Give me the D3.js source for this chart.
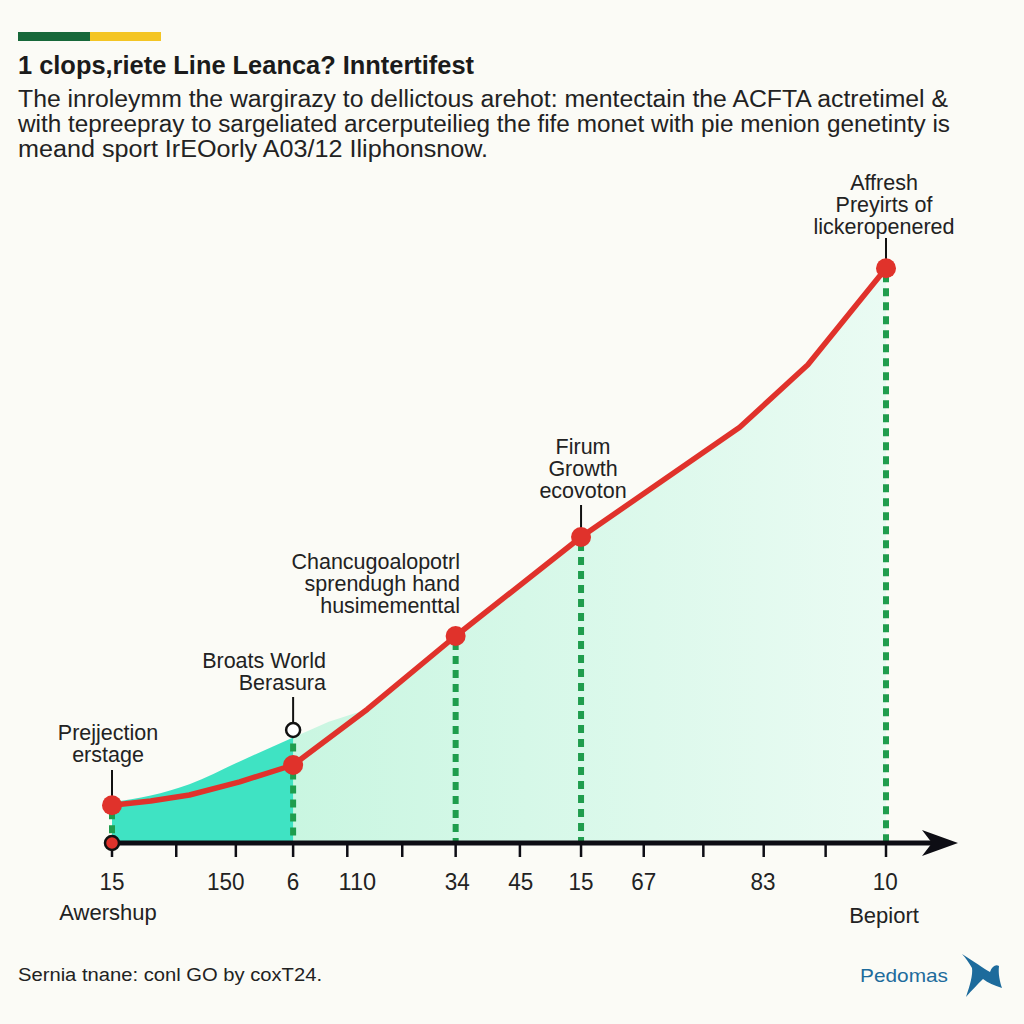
<!DOCTYPE html>
<html><head><meta charset="utf-8">
<script src="https://cdn.jsdelivr.net/npm/d3@7"></script>
<style>html,body{margin:0;padding:0;background:#fbfbf6;}svg{display:block;}</style>
</head><body>
<svg id="c" width="1024" height="1024"></svg>
<script>
// ---- data ----
const titleText = "1 clops,riete Line Leanca? Inntertifest";
const subtitleLines = [
  "The inroleymm the wargirazy to dellictous arehot: mentectain the ACFTA actretimel &",
  "with tepreepray to sargeliated arcerputeilieg the fife monet with pie menion genetinty is",
  "meand sport IrEOorly A03/12 Iliphonsnow."
];
const sourceText = "Sernia tnane: conl GO by coxT24.";
const brandText = "Pedomas";

const lineX = [0, 5, 10, 16.5, 23.4, 33, 44.4, 60.6, 81.1, 89.9, 100];
const lineY = [6.3, 7.0, 8.0, 10.2, 13.0, 22.3, 34.5, 51.0, 69.3, 79.7, 95.8];

const earlyX = [0, 5, 10, 16.5, 23.4];
const earlyY = [6.8, 7.9, 9.8, 13.6, 17.6];

const growthX = [23.4, 28, 33, 44.4, 60.6, 81.1, 89.9, 100];
const growthY = [17.6, 20.2, 22.3, 34.5, 51.0, 69.3, 79.7, 95.8];

const keyX = [0, 23.4, 44.4, 60.6, 100];
const keyY = [6.3, 13.0, 34.5, 51.0, 95.8];

const tickValues = [0, 8.3, 16, 23.4, 30.4, 37.5, 44.4, 52.7, 60.6, 68.7, 76.4, 84.2, 92.2, 100];
const tickLabels = ["15", "150", "6", "110", "34", "45", "15", "67", "83", "10"];
const tickLabelPos = [0, 14.7, 23.4, 31.7, 44.6, 52.8, 60.6, 68.7, 84.1, 99.9];
const endLabels = ["Awershup", "Bepiort"];

const annoLines = [
  ["Prejjection", "erstage"],
  ["Broats World", "Berasura"],
  ["Chancugoalopotrl", "sprendugh hand", "husimementtal"],
  ["Firum", "Growth", "ecovoton"],
  ["Affresh", "Preyirts of", "lickeropenered"]
];

// ---- drawing ----
const svg = d3.select("#c");
svg.append("rect").attr("width",1024).attr("height",1024).attr("fill","#fbfbf6");

const x = d3.scaleLinear().domain([0,100]).range([112,886]);
const y = d3.scaleLinear().domain([0,100]).range([843,243]);

// header bar
svg.append("rect").attr("x",18).attr("y",32).attr("width",72).attr("height",9).attr("fill","#17683a");
svg.append("rect").attr("x",90).attr("y",32).attr("width",71).attr("height",9).attr("fill","#f4c524");

svg.append("text").attr("x",18).attr("y",74).text(titleText)
  .attr("font-family","Liberation Sans, Arial, sans-serif").attr("font-weight","bold")
  .attr("font-size",26).attr("fill","#1b1b1b")
  .attr("textLength",456).attr("lengthAdjust","spacingAndGlyphs");

const subW = [930, 932, 470];
subtitleLines.forEach((t,i)=>{
  svg.append("text").attr("x",18).attr("y",107+i*25).text(t)
    .attr("font-family","Liberation Sans, Arial, sans-serif")
    .attr("font-size",23).attr("fill","#222")
    .attr("textLength",subW[i]).attr("lengthAdjust","spacingAndGlyphs");
});

// gradient for growth area
const defs = svg.append("defs");
const g1 = defs.append("linearGradient").attr("id","lg").attr("x1","0").attr("x2","1").attr("y1","0").attr("y2","0");
g1.append("stop").attr("offset","0").attr("stop-color","#c9f6e1");
g1.append("stop").attr("offset","1").attr("stop-color","#eafbf3");

const growth = growthX.map((v,i)=>({x:v,y:growthY[i]}));
const early = earlyX.map((v,i)=>({x:v,y:earlyY[i]}));
const line = lineX.map((v,i)=>({x:v,y:lineY[i]}));

svg.append("path").datum(growth)
  .attr("d", d3.area().x(d=>x(d.x)).y0(y(0)).y1(d=>y(d.y)).curve(d3.curveLinear))
  .attr("fill","url(#lg)");
svg.append("path").datum(early)
  .attr("d", d3.area().x(d=>x(d.x)).y0(y(0)).y1(d=>y(d.y)).curve(d3.curveMonotoneX))
  .attr("fill","#3fe3c3");

// dashed verticals
keyX.forEach((v,i)=>{
  const top = i===1 ? y(earlyY[earlyY.length-1]) : y(keyY[i]);
  svg.append("line").attr("x1",x(v)).attr("x2",x(v)).attr("y1",top+6).attr("y2",y(0)-2)
    .attr("stroke","#1f9d4d").attr("stroke-width",6).attr("stroke-dasharray","8,6");
});

// axis
const axisG = svg.append("g");
axisG.append("line").attr("x1",x(0)).attr("x2",945).attr("y1",y(0)).attr("y2",y(0))
  .attr("stroke","#0d0d14").attr("stroke-width",5);
axisG.append("path").attr("d",`M922,${y(0)-13} L958,${y(0)} L922,${y(0)+13} L932,${y(0)} Z`).attr("fill","#0d0d14");
tickValues.forEach(v=>{
  axisG.append("line").attr("x1",x(v)).attr("x2",x(v)).attr("y1",y(0)).attr("y2",y(0)+14)
    .attr("stroke","#0d0d14").attr("stroke-width",2.5);
});
tickLabels.forEach((t,i)=>{
  axisG.append("text").attr("x",x(tickLabelPos[i])).attr("y",890).attr("text-anchor","middle")
    .attr("font-family","Liberation Sans, Arial, sans-serif").attr("font-size",23).attr("fill","#222")
    .attr("textLength", t.length*12.5).attr("lengthAdjust","spacingAndGlyphs").text(t);
});
axisG.append("text").attr("x",x(0)-4).attr("y",920).attr("text-anchor","middle")
  .attr("font-family","Liberation Sans, Arial, sans-serif").attr("font-size",22).attr("fill","#222").text(endLabels[0]);
axisG.append("text").attr("x",x(100)-2).attr("y",923).attr("text-anchor","middle")
  .attr("font-family","Liberation Sans, Arial, sans-serif").attr("font-size",22).attr("fill","#222").text(endLabels[1]);

// origin marker
svg.append("circle").attr("cx",x(0)).attr("cy",y(0)).attr("r",7).attr("fill","#e0322b")
  .attr("stroke","#111").attr("stroke-width",2.5);

// red line
svg.append("path").datum(line)
  .attr("d", d3.line().x(d=>x(d.x)).y(d=>y(d.y)).curve(d3.curveLinear))
  .attr("fill","none").attr("stroke","#e0322b").attr("stroke-width",5.5).attr("stroke-linejoin","round");

// annotations
function annoText(lines, cx, baseY, anchor){
  lines.forEach((t,i)=>{
    svg.append("text").attr("x",cx).attr("y",baseY+i*22).attr("text-anchor",anchor)
      .attr("font-family","Liberation Sans, Arial, sans-serif").attr("font-size",21.5).attr("fill","#222").text(t);
  });
}
// 0
annoText(annoLines[0], x(keyX[0])-4, 740, "middle");
svg.append("line").attr("x1",x(keyX[0])).attr("x2",x(keyX[0])).attr("y1",770).attr("y2",y(keyY[0])-8).attr("stroke","#111").attr("stroke-width",2);
// 1
annoText(annoLines[1], 326, 668, "end");
svg.append("line").attr("x1",x(keyX[1])).attr("x2",x(keyX[1])).attr("y1",697).attr("y2",723).attr("stroke","#111").attr("stroke-width",2);
svg.append("circle").attr("cx",x(keyX[1])).attr("cy",730).attr("r",7).attr("fill","#fff").attr("stroke","#111").attr("stroke-width",2.5);
// 2
annoText(annoLines[2], 460, 569, "end");
// 3
annoText(annoLines[3], x(keyX[3])+2, 454, "middle");
svg.append("line").attr("x1",x(keyX[3])).attr("x2",x(keyX[3])).attr("y1",505).attr("y2",y(keyY[3])-8).attr("stroke","#111").attr("stroke-width",2);
// 4
annoText(annoLines[4], x(keyX[4])-2, 190, "middle");
svg.append("line").attr("x1",x(keyX[4])).attr("x2",x(keyX[4])).attr("y1",238).attr("y2",y(keyY[4])-8).attr("stroke","#111").attr("stroke-width",2);

// key markers
keyX.forEach((v,i)=>{
  svg.append("circle").attr("cx",x(v)).attr("cy",y(keyY[i])).attr("r",10).attr("fill","#e0322b");
});

// footer
svg.append("text").attr("x",18).attr("y",981).attr("font-family","Liberation Sans, Arial, sans-serif")
  .attr("font-size",18).attr("fill","#222").attr("textLength",304).attr("lengthAdjust","spacingAndGlyphs").text(sourceText);
svg.append("text").attr("x",860).attr("y",982).attr("font-family","Liberation Sans, Arial, sans-serif")
  .attr("font-size",19).attr("fill","#1d6b9c").attr("textLength",88).attr("lengthAdjust","spacingAndGlyphs").text(brandText);
svg.append("path").attr("d","M962,954 C975,962 983,968 990,972 C992,966 996,964 999,966 C998,974 1000,982 1002,988 C994,985 988,983 983,979 C977,985 972,990 966,997 C970,985 973,975 972,968 C969,963 966,958 962,954 Z")
  .attr("fill","#1d6b9c");
</script>
</body></html>
